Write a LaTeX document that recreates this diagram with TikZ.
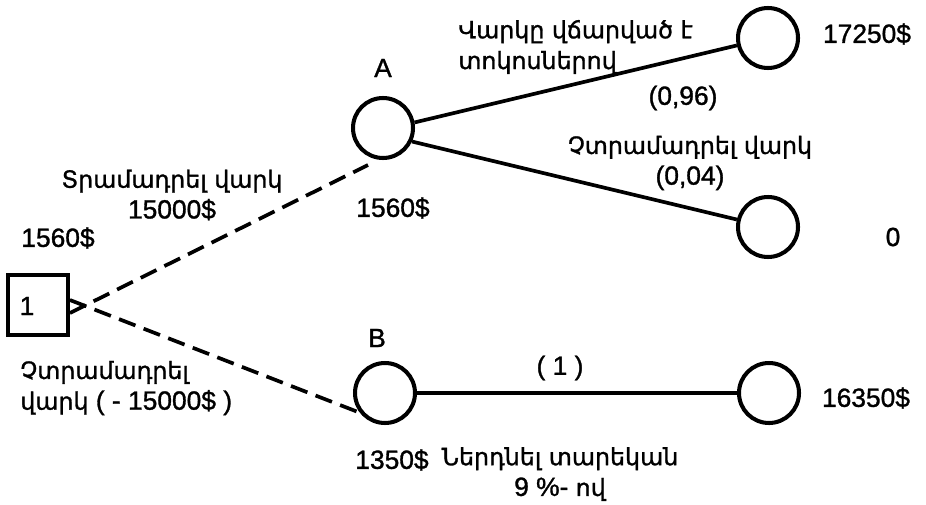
\documentclass[tikz,border=0pt]{standalone}
\usepackage{fontspec}
\setmainfont{Liberation Sans}[FakeBold=1.2]
\newfontfamily\armfont{DejaVu Sans}[Scale=0.9, FakeBold=1.2]
\usetikzlibrary{arrows.meta,positioning}

\begin{document}
\begin{tikzpicture}[x=0.02cm, y=-0.02cm,
      chance/.style={draw, circle, line width=2.3pt, minimum size=1.2cm, inner sep=0pt},
      decision/.style={draw, rectangle, line width=2.2pt, minimum size=1.2cm, inner sep=0pt},
      branch/.style={line width=2.1pt},
      offer/.style={line width=2.1pt, dash pattern=on 10pt off 5pt},
      lbl/.style={font=\fontsize{15}{17.5}\selectfont, inner sep=0pt}
    ]
    \useasboundingbox (0,0) rectangle (926,504);

    \node[decision] (dec) at (38,305) {};
    \node[lbl] (dec-num) at (27,306) {1};
    \node[chance] (A) at (383,128) {};
    \node[chance] (B) at (385,393) {};
    \node[chance] (a-pay) at (768,38) {};
    \node[chance] (a-def) at (768,227) {};
    \node[chance] (b-pay) at (769,393) {};
    \coordinate (a-in) at (368,165);
    \coordinate (b-in) at (358,412);

    \node[lbl] (A-name) at (383,68) {A};
    \node[lbl] (B-name) at (377,338) {B};
    \node[lbl] (A-val) at (393,208) {1560\$};
    \node[lbl] (B-val) at (392,460) {1350\$};
    \node[lbl] (dec-val) at (58,238) {1560\$};
    \node[lbl] (a-pay-val) at (867,34) {17250\$};
    \node[lbl] (a-def-val) at (893,237) {0};
    \node[lbl] (b-pay-val) at (866,398) {16350\$};

    \node[lbl, align=center] (give) at (172,195) {{\armfont Տրամադրել վարկ}\\15000\$};
    \node[lbl, align=left, anchor=west] (keep) at (20,388) {{\armfont Չտրամադրել}\\{\armfont վարկ} ( - 15000\$ )};
    \node[lbl, align=left, anchor=west] (paid) at (458,47) {\armfont Վարկը վճարված է\\\armfont տոկոսներով};
    \node[lbl] (paid-p) at (683,98) {(0,96)};
    \node[lbl, align=center] (unpaid) at (690,163) {{\armfont Չտրամադրել վարկ}\\(0,04)};
    \node[lbl] (bank-p) at (560,368) {( 1 )};
    \node[lbl, align=center] (bank) at (560,474) {{\armfont Ներդնել տարեկան}\\9 \%- {\armfont ով}};

    \draw[offer] ([yshift=-0.16cm]dec.east) -- (a-in);
    \draw[offer] ([yshift=0.1cm]dec.east) -- (b-in);
    \draw[branch] (A.10) -- (a-pay);
    \draw[branch] (A.-25) -- (a-def);
    \draw[branch] (B) -- (b-pay);
  \end{tikzpicture}
\end{document}
